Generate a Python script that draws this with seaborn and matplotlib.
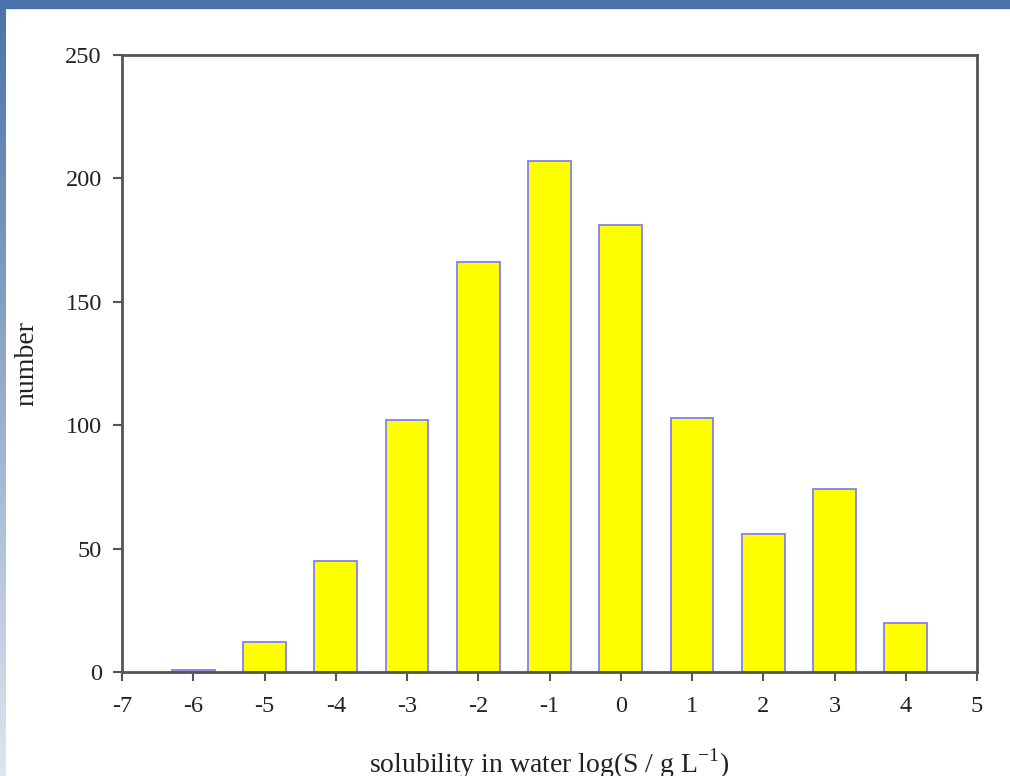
import seaborn as sb
import pandas as pd
import numpy as np
import matplotlib.pyplot as plt
from matplotlib.patches import Rectangle

logs = [-6, -5, -4, -3, -2, -1, 0, 1, 2, 3, 4]
counts = [1, 12, 45, 102, 166, 207, 181, 103, 56, 74, 20]
xticks = list(range(-7, 6))
yticks = [0, 50, 100, 150, 200, 250]

df = pd.DataFrame({'log': logs, 'number': counts})

sb.set_style('white')
plt.rcParams['font.family'] = ['Liberation Serif', 'DejaVu Serif']

fig = plt.figure(figsize=(10.1, 7.76), dpi=100)
W, H = 1010, 776
ax = fig.add_axes([122 / W, 1 - 672 / H, (977 - 122) / W, (672 - 55) / H])

sb.barplot(data=df, x='log', y='number', native_scale=True, width=0.6,
           color='#ffff00', edgecolor='#8080f0', linewidth=1.3,
           saturation=1, ax=ax)

ax.set_xlim(-7, 5)
ax.set_ylim(0, 250)
ax.set_xticks(xticks)
ax.set_xticklabels([str(t) for t in xticks])
ax.set_yticks(yticks)
ax.set_xlabel('')
ax.set_ylabel('')
for s in ax.spines.values():
    s.set_color('#555555')
    s.set_linewidth(2)
    s.set_visible(True)
ax.tick_params(axis='both', direction='out', length=6.5, width=1.5,
               color='#555555', labelsize=17.5, labelcolor='#222222')
ax.tick_params(axis='x', bottom=True, pad=11)
ax.tick_params(axis='y', left=True, pad=8)

fig.text(549 / W, 1 - 773 / H, r'solubility in water log(S / g L$^{\mathregular{-1}}$)',
         ha='center', va='baseline', fontsize=20, color='#222222')
fig.text(27 / W, 1 - 363 / H, 'number', rotation=90, ha='center', va='center',
         fontsize=20, color='#222222')

# slide frame: blue band on top, gradient band on the left
band = fig.add_axes([0, 0, 6 / W, 1])
grad = np.linspace(0, 1, 256).reshape(-1, 1)
cmap = sb.blend_palette(['#4a72a8', '#dfe5ef'], as_cmap=True)
band.imshow(grad, aspect='auto', cmap=cmap, extent=[0, 1, 0, 1])
band.set_axis_off()
fig.patches.append(Rectangle((0, 1 - 8 / H), 1, 8 / H, transform=fig.transFigure,
                             color='#4a72a8', zorder=5))

fig.savefig('out.png', dpi=100)
